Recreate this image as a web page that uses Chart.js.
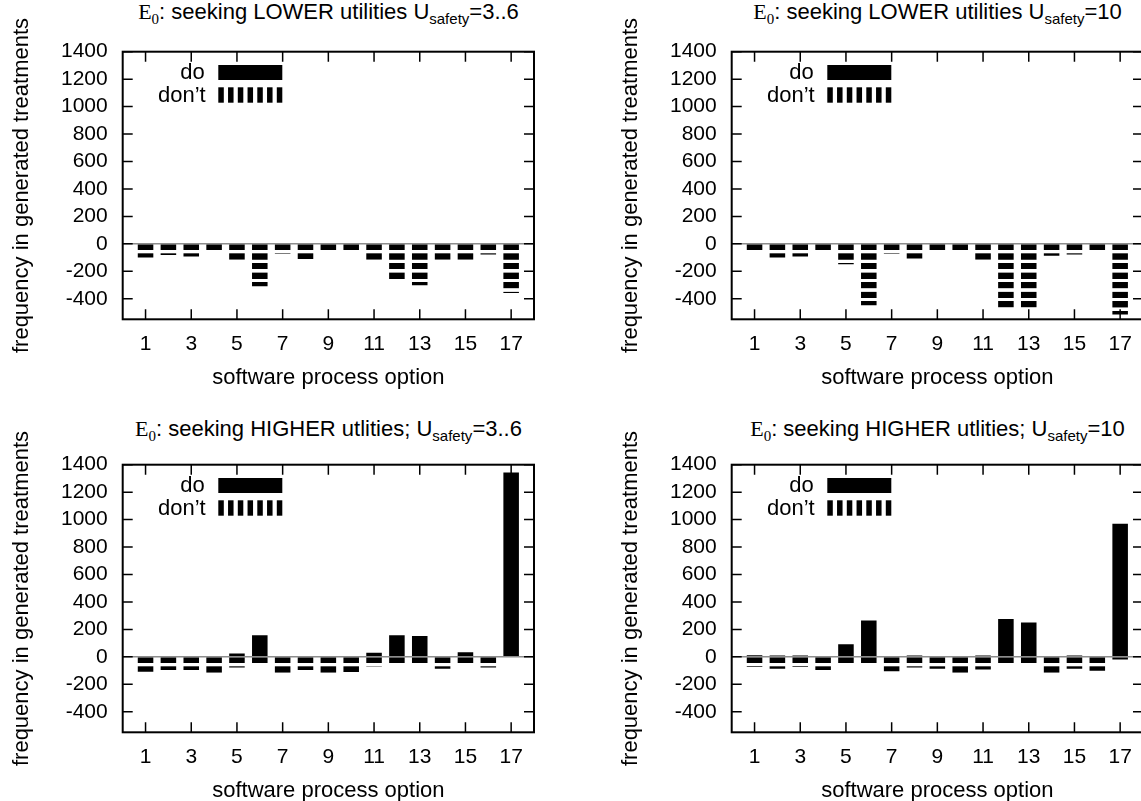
<!DOCTYPE html>
<html>
<head>
<meta charset="utf-8">
<script src="https://cdn.jsdelivr.net/npm/chart.js@4.4.0/dist/chart.umd.min.js"></script>
<style>
  html, body { margin: 0; padding: 0; background: #fff; overflow: hidden; }
  body { width: 1141px; height: 801px; position: relative; font-family: "Liberation Sans", Arial, sans-serif; }
  canvas { position: absolute; }
  .title { position: absolute; width: 411px; text-align: center; font-size: 22px; line-height: 22px; color: #000; white-space: nowrap; }
  .title .e { font-family: "Liberation Serif", "Times New Roman", serif; }
  .title sub { font-size: 15px; line-height: 0; vertical-align: baseline; position: relative; top: 5px; }
</style>
</head>
<body>
<div class="title" style="left:123px; top:1px"><span class="e">E<sub>0</sub></span>: seeking LOWER utilities U<sub>safety</sub>=3..6</div>
<div class="title" style="left:732px; top:1px"><span class="e">E<sub>0</sub></span>: seeking LOWER utilities U<sub>safety</sub>=10</div>
<div class="title" style="left:123px; top:418px"><span class="e">E<sub>0</sub></span>: seeking HIGHER utlities; U<sub>safety</sub>=3..6</div>
<div class="title" style="left:732px; top:418px"><span class="e">E<sub>0</sub></span>: seeking HIGHER utlities; U<sub>safety</sub>=10</div>

<canvas id="lowerLow" width="609" height="413" style="left:0; top:0"></canvas>
<canvas id="lowerHigh" width="609" height="413" style="left:609px; top:0"></canvas>
<canvas id="higherLow" width="609" height="413" style="left:0; top:413px"></canvas>
<canvas id="higherHigh" width="609" height="413" style="left:609px; top:413px"></canvas>

<script>
// software process options 1..17
const processOptions = [1, 2, 3, 4, 5, 6, 7, 8, 9, 10, 11, 12, 13, 14, 15, 16, 17];
const xTickLabels = [1, 3, 5, 7, 9, 11, 13, 15, 17];
const yTickLabels = [-400, -200, 0, 200, 400, 600, 800, 1000, 1200, 1400];

// seeking LOWER utilities, Usafety=3..6
const doLowerLow   = [0, 0, 0, 0, 0, 0, 0, 0, 0, 0, 0, 0, 0, 0, 0, 0, 0];
const dontLowerLow = [-100, -82, -92, -48, -116, -309, -72, -111, -48, -48, -116, -256, -302, -116, -116, -77, -358];
// seeking LOWER utilities, Usafety=10
const doLowerHigh   = [0, 0, 0, 0, 0, 0, 0, 0, 0, 0, 0, 0, 0, 0, 0, 0, 0];
const dontLowerHigh = [-48, -100, -92, -48, -148, -447, -72, -107, -48, -48, -116, -464, -464, -87, -78, -48, -515];
// seeking HIGHER utilities, Usafety=3..6
const doHigherLow   = [0, 0, 0, 0, 24, 157, 0, 0, 0, 0, 29, 157, 152, 0, 34, 0, 1344];
const dontHigherLow = [-108, -96, -96, -116, -77, -48, -116, -96, -116, -111, -70, -48, -48, -87, -48, -78, -5];
// seeking HIGHER utilities, Usafety=10
const doHigherHigh   = [12, 10, 10, 0, 92, 265, 0, 10, 0, 0, 10, 275, 251, 0, 10, 0, 970];
const dontHigherHigh = [-75, -87, -75, -96, -48, -48, -106, -77, -87, -116, -92, -48, -48, -116, -87, -101, -19];

const fontFamily = '"Liberation Sans", Arial, sans-serif';

function makeStripes(ctx) {
    let tile = document.createElement('canvas');
    tile.width = 4;
    tile.height = 20;
    let t = tile.getContext('2d');
    t.fillStyle = '#000';
    t.fillRect(0, 0, 4, 13);
    return ctx.createPattern(tile, 'repeat');
}

// frame, mirrored inward ticks and the key, gnuplot style
const framePlugin = {
    id: 'frame',
    beforeDatasetsDraw(chart) {
        let zeroY = chart.scales.y.getPixelForValue(0);
        let pattern = chart.data.datasets[1].backgroundColor;
        pattern.setTransform(new DOMMatrix().translate(0, zeroY).scale(1, 0.4785));
    },
    afterDatasetsDraw(chart) {
        const ctx = chart.ctx;
        const a = chart.chartArea;
        const x = chart.scales.x, y = chart.scales.y;
        ctx.save();
        ctx.strokeStyle = '#000';
        ctx.lineWidth = 1.5;
        ctx.beginPath();
        x.ticks.forEach(t => {
            let px = x.getPixelForValue(t.value);
            ctx.moveTo(px, a.bottom); ctx.lineTo(px, a.bottom - 10);
            ctx.moveTo(px, a.top); ctx.lineTo(px, a.top + 10);
        });
        y.ticks.forEach(t => {
            let py = y.getPixelForValue(t.value);
            ctx.moveTo(a.left, py); ctx.lineTo(a.left + 10, py);
            ctx.moveTo(a.right, py); ctx.lineTo(a.right - 10, py);
        });
        ctx.stroke();
        ctx.lineWidth = 2;
        ctx.strokeRect(a.left, a.top, a.right - a.left, a.bottom - a.top);

        // key
        ctx.fillStyle = '#000';
        ctx.font = '22px ' + fontFamily;
        ctx.textAlign = 'right';
        ctx.textBaseline = 'middle';
        ctx.fillText(chart.data.datasets[0].label, a.left + 82, a.top + 21);
        ctx.fillRect(a.left + 95.6, a.top + 13.3, 64, 15);
        ctx.fillText(chart.data.datasets[1].label, a.left + 83, a.top + 44);
        for (let i = 0; i < 7; i++) {
            ctx.fillRect(a.left + 95.6 + i * 9.75, a.top + 35.6, 5.5, 15.4);
        }
        ctx.restore();
    }
};

function drawPanel(id, doVals, dontVals) {
    let canvas = document.getElementById(id);
    let ctx = canvas.getContext('2d');

    let data = {
        datasets: [{
            label: 'do',
            data: processOptions.map((o, i) => ({ x: o, y: doVals[i] })),
            backgroundColor: '#000'
        }, {
            label: 'don\u2019t',
            data: processOptions.map((o, i) => ({ x: o, y: dontVals[i] })),
            backgroundColor: makeStripes(ctx)
        }]
    };

    let options = {
        responsive: false,
        animation: false,
        events: [],
        layout: { padding: { left: 0, top: 51.7, right: 75, bottom: 0 } },
        datasets: {
            bar: { grouped: false, categoryPercentage: 1, barPercentage: 0.68, borderWidth: 0 }
        },
        plugins: {
            legend: { display: false },
            tooltip: { enabled: false }
        },
        scales: {
            x: {
                type: 'linear',
                offset: false,
                min: 0,
                max: 18,
                afterBuildTicks: s => { s.ticks = xTickLabels.map(v => ({ value: v })); },
                afterFit: s => { s.height = 93.7; },
                grid: { display: false, drawTicks: false, offset: false },
                border: { display: false },
                ticks: {
                    padding: 12,
                    color: '#000',
                    font: { family: fontFamily, size: 21 },
                    maxRotation: 0,
                    autoSkip: false,
                    callback: v => String(v)
                },
                title: {
                    display: true,
                    text: 'software process option',
                    color: '#000',
                    font: { family: fontFamily, size: 22 },
                    padding: { top: 0, bottom: 22 }
                }
            },
            y: {
                min: -550,
                max: 1400,
                afterBuildTicks: s => { s.ticks = yTickLabels.map(v => ({ value: v })); },
                afterFit: s => { s.width = 122.7; },
                grid: {
                    drawTicks: false,
                    lineWidth: 1.5,
                    color: c => (c.tick && c.tick.value === 0) ? '#8c8c8c' : 'rgba(0,0,0,0)'
                },
                border: { display: false },
                ticks: {
                    padding: 15,
                    color: '#000',
                    font: { family: fontFamily, size: 21 },
                    callback: v => String(v)
                },
                title: {
                    display: true,
                    text: 'frequency in generated treatments',
                    color: '#000',
                    font: { family: fontFamily, size: 22 },
                    padding: { top: 9, bottom: 0 }
                }
            }
        }
    };

    return new Chart(ctx, { type: 'bar', data: data, options: options, plugins: [framePlugin] });
}

drawPanel('lowerLow', doLowerLow, dontLowerLow);
drawPanel('lowerHigh', doLowerHigh, dontLowerHigh);
drawPanel('higherLow', doHigherLow, dontHigherLow);
drawPanel('higherHigh', doHigherHigh, dontHigherHigh);
</script>
</body>
</html>
